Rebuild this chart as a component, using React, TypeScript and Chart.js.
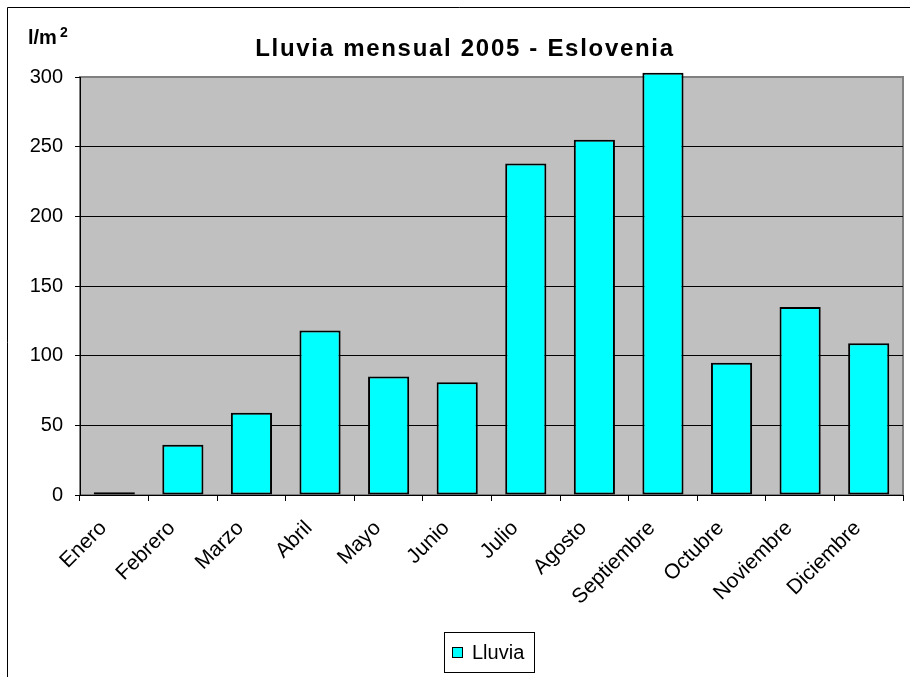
import { useEffect, useRef } from "react";
import { Chart, registerables } from "chart.js";

Chart.register(...registerables);

const categories = [
  "Enero", "Febrero", "Marzo", "Abril", "Mayo", "Junio",
  "Julio", "Agosto", "Septiembre", "Octubre", "Noviembre", "Diciembre",
];
const rainfall = [2, 36, 59, 118, 85, 81, 238, 255, 303, 95, 135, 109];
const seriesLabel = "Lluvia";
const titleText = "Lluvia mensual 2005 - Eslovenia";
const unitText = "l/m";
const unitSup = "2";
const yMin = 0;
const yMax = 300;
const yStep = 50;

const FONT = '"Liberation Sans", Arial, sans-serif';

const decor = {
  id: "decor",
  beforeDraw(chart: any) {
    const { ctx, chartArea } = chart;
    const { left, top, right, bottom } = chartArea;
    ctx.save();
    ctx.fillStyle = "#ffffff";
    ctx.fillRect(0, 0, chart.width, chart.height);
    ctx.strokeStyle = "#000000";
    ctx.lineWidth = 1;
    ctx.beginPath();
    ctx.moveTo(7.5, chart.height + 5);
    ctx.lineTo(7.5, 7.5);
    ctx.lineTo(chart.width + 5, 7.5);
    ctx.stroke();
    ctx.fillStyle = "#C0C0C0";
    ctx.fillRect(left, top, right - left, bottom - top);
    ctx.strokeStyle = "#808080";
    ctx.lineWidth = 2;
    ctx.strokeRect(left, top, right - left, bottom - top);
    ctx.restore();
  },
  afterDraw(chart: any) {
    const { ctx } = chart;
    ctx.save();
    ctx.fillStyle = "#000000";
    ctx.font = `bold 24px ${FONT}`;
    (ctx as any).letterSpacing = "1.7px";
    ctx.textAlign = "center";
    ctx.textBaseline = "alphabetic";
    ctx.fillText(titleText, 465, 56);
    (ctx as any).letterSpacing = "0px";
    ctx.textAlign = "left";
    ctx.font = `bold 20px ${FONT}`;
    ctx.fillText(unitText, 28, 44);
    const w = ctx.measureText(unitText).width;
    ctx.font = `bold 14px ${FONT}`;
    ctx.fillText(unitSup, 28 + w + 3, 37);
    const ds = chart.data.datasets[0];
    ctx.strokeStyle = "#000000";
    ctx.lineWidth = 1;
    ctx.strokeRect(444.5, 632.5, 90, 40);
    ctx.fillStyle = ds.backgroundColor;
    ctx.fillRect(452, 647, 11, 11);
    ctx.strokeRect(452.5, 647.5, 10, 10);
    ctx.fillStyle = "#000000";
    ctx.font = `20px ${FONT}`;
    ctx.textBaseline = "middle";
    ctx.fillText(ds.label, 472, 653);
    ctx.restore();
  },
};

export default function App() {
  const ref = useRef<HTMLCanvasElement | null>(null);
  useEffect(() => {
    if (!ref.current) return;
    const chart = new Chart(ref.current, {
      type: "bar",
      data: {
        labels: categories,
        datasets: [
          {
            label: seriesLabel,
            data: rainfall,
            backgroundColor: "#00FFFF",
            borderColor: "#000000",
            borderWidth: 2,
            borderSkipped: false,
            barPercentage: 0.6,
            categoryPercentage: 1,
            clip: false as any,
          },
        ],
      },
      options: {
        responsive: false,
        animation: false,
        layout: { padding: { top: 77, right: 7, left: 0, bottom: 0 } },
        plugins: {
          legend: { display: false },
          title: { display: false },
          tooltip: { enabled: false },
        },
        scales: {
          x: {
            offset: true,
            grid: {
              offset: true,
              drawOnChartArea: false,
              drawTicks: true,
              tickLength: 6,
              tickColor: "#000000",
            },
            border: { display: true, color: "#000000", width: 1 },
            ticks: {
              autoSkip: false,
              maxRotation: 45,
              minRotation: 45,
              padding: 15,
              labelOffset: -11,
              color: "#000000",
              font: { family: FONT, size: 21 },
            },
            afterFit(scale: any) {
              scale.height = 182;
            },
          },
          y: {
            min: yMin,
            max: yMax,
            ticks: {
              stepSize: yStep,
              padding: 12,
              color: "#000000",
              font: { family: FONT, size: 20 },
            },
            grid: {
              color: (c: any) =>
                c.tick && (c.tick.value === yMin || c.tick.value === yMax)
                  ? "rgba(0,0,0,0)"
                  : "#000000",
              tickColor: "#000000",
              tickLength: 5,
              lineWidth: 1,
            },
            border: { display: true, color: "#000000", width: 1 },
            afterFit(scale: any) {
              scale.width = 80;
            },
          },
        },
      },
      plugins: [decor],
    });
    return () => chart.destroy();
  }, []);
  return (
    <div style={{ position: "fixed", left: 0, top: 0, width: 910, height: 677, overflow: "hidden" }}>
      <canvas ref={ref} width={910} height={677} style={{ display: "block" }} />
    </div>
  );
}
